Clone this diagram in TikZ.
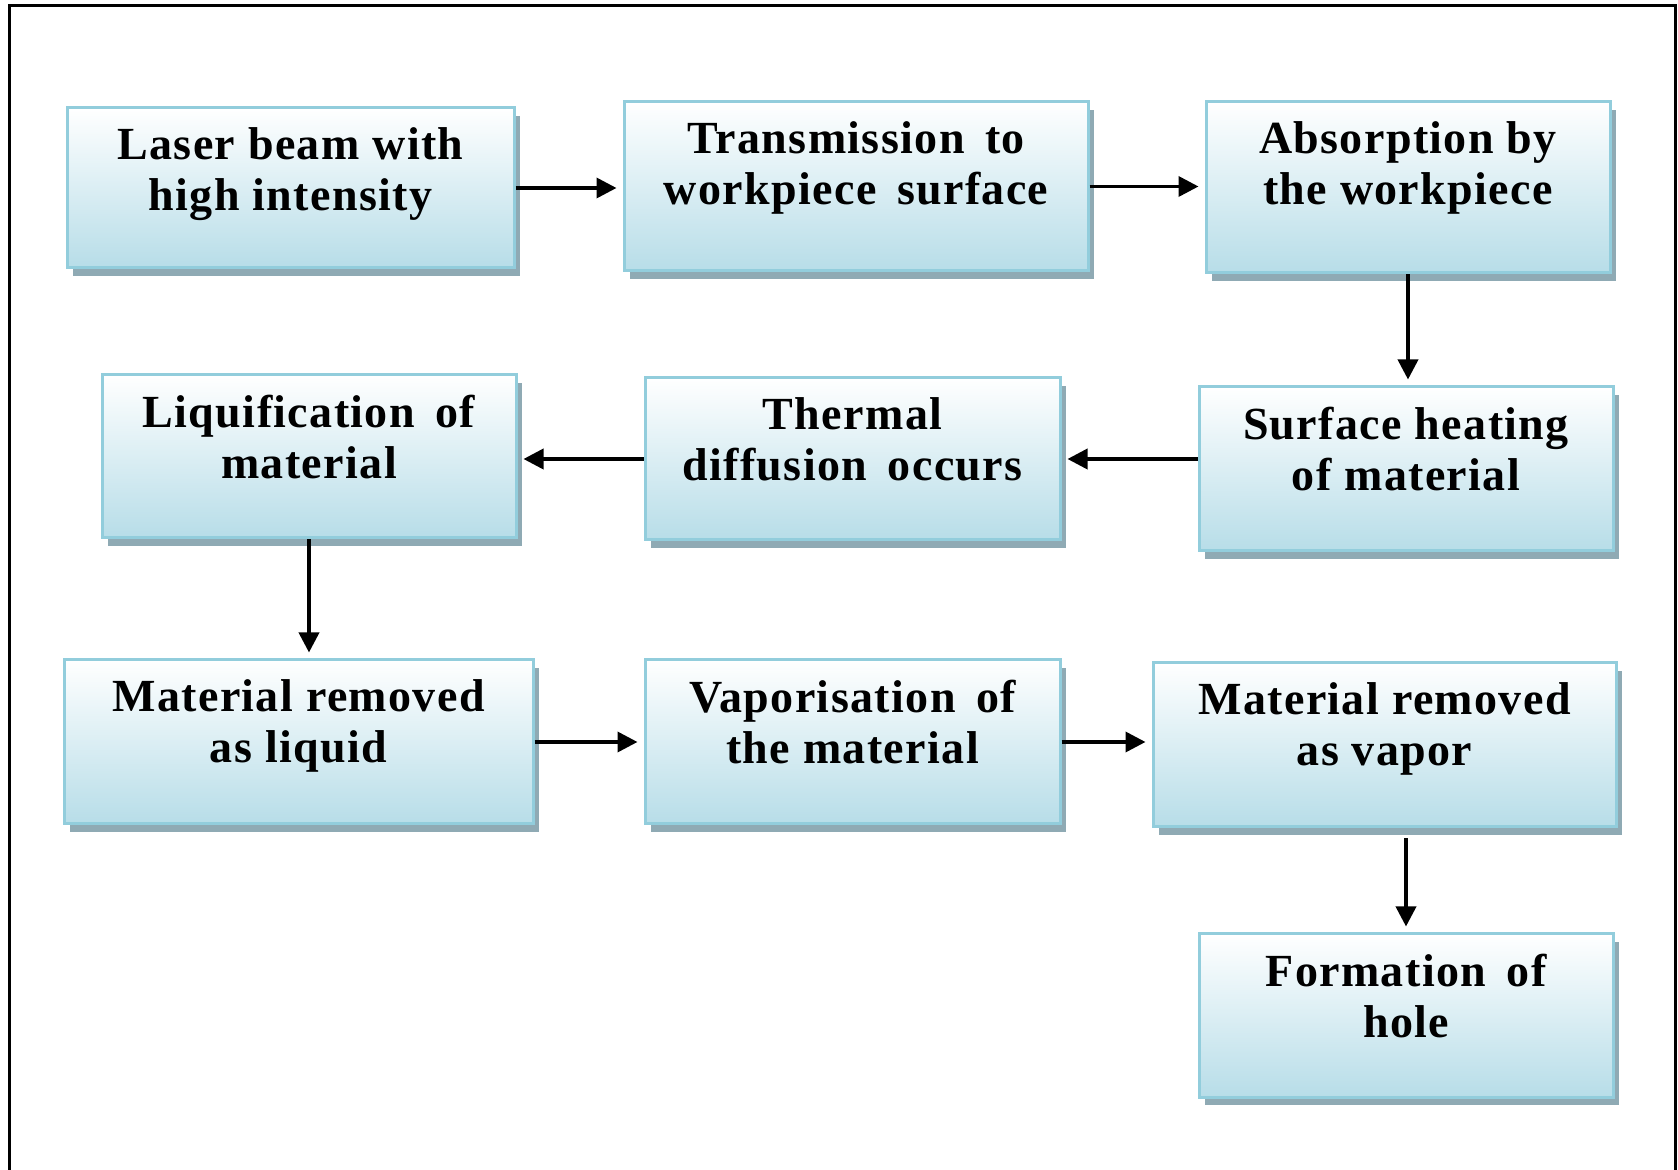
\documentclass[tikz,border=0pt]{standalone}
\usepackage{fontspec}
\setmainfont{Liberation Serif}
\newfontfamily\stagefont[LetterSpace=3]{Liberation Serif}
\usetikzlibrary{arrows.meta,shadows,positioning}
\definecolor{boxEdge} {RGB}{146, 205, 220}
\definecolor{boxFill} {RGB}{183, 221, 232}
\definecolor{boxShade}{RGB}{143, 170, 180}

\begin{document}
\begin{tikzpicture}[x=0.5pt,y=-0.5pt,
          stage/.style={rectangle,draw=boxEdge,line width=1.5pt,
                        top color=white,bottom color=boxFill,
                        drop shadow={shadow xshift=3pt,shadow yshift=-4pt,
                                     fill=boxShade,opacity=1}},
          caption/.style={anchor=north,yshift=-10.5pt,inner sep=0pt,align=center,
                          font=\stagefont\bfseries\fontsize{23}{25.5}\selectfont},
          flow/.style={-{Triangle[length=10pt,width=10pt]},line width=1.8pt,
                       shorten >=3pt},
        ]
        \useasboundingbox (0,0) rectangle (1678,1170);
        % open frame
        \draw[line width=1.5pt] (9,1170) -- (9,6) -- (1675,6) -- (1675,1170);

        % first row
        \node[stage,minimum width=223.5pt,minimum height=80pt,
              label={[caption]north:{Laser beam with\\high intensity}}] (b1) at (290.5,188) {};
        \node[stage,minimum width=232pt,minimum height=84.5pt,
              label={[caption]north:{Transmission \,to\\workpiece \,surface}}] (b2) at (856,186.5) {};
        \node[stage,minimum width=202pt,minimum height=85.5pt,
              label={[caption]north:{Absorption by\\the workpiece}}] (b3) at (1408,187.5) {};

        % second row
        \node[stage,minimum width=207pt,minimum height=82pt,
              label={[caption]north:{Surface heating\\of material}}] (b4) at (1406,469) {};
        \node[stage,minimum width=207.5pt,minimum height=81pt,
              label={[caption]north:{Thermal\\diffusion \,occurs}}] (b5) at (852.5,459) {};
        \node[stage,minimum width=207pt,minimum height=81.5pt,
              label={[caption]north:{Liquification \,of\\material}}] (b6) at (309,456.5) {};

        % third row
        \node[stage,minimum width=234.5pt,minimum height=82pt,
              label={[caption]north:{Material removed\\as liquid}}] (b7) at (298.5,742) {};
        \node[stage,minimum width=207.5pt,minimum height=82pt,
              label={[caption]north:{Vaporisation \,of\\the material}}] (b8) at (852.5,742) {};
        \node[stage,minimum width=231.5pt,minimum height=82pt,
              label={[caption]north:{Material removed\\as vapor}}] (b9) at (1384.5,745) {};

        % last step
        \node[stage,minimum width=207pt,minimum height=81.5pt,
              label={[caption]north:{Formation \,of\\hole}}] (b10) at (1406,1015.5) {};

        % connectors
        \draw[flow] (b1.east) -- (b1.east -| b2.west);
        \draw[flow] (b2.east) -- (b2.east -| b3.west);
        \draw[flow] (b3.south) -- (b3.south |- b4.north);
        \draw[flow] (b4.west |- b5.east) -- (b5.east);
        \draw[flow] (b5.west) -- (b5.west -| b6.east);
        \draw[flow] (b6.south) -- (b6.south |- b7.north);
        \draw[flow] (b7.east) -- (b7.east -| b8.west);
        \draw[flow] (b8.east) -- (b8.east -| b9.west);
        \draw[flow,shorten <=5pt] (b10.north |- b9.south) -- (b10.north);
      \end{tikzpicture}
\end{document}
